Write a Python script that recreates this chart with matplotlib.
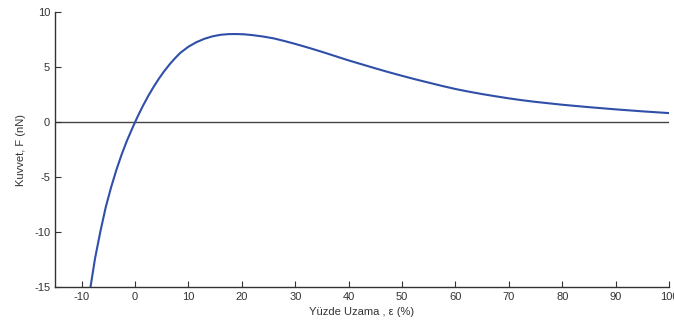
import numpy as np
import matplotlib.pyplot as plt

plt.rcParams['font.family'] = ['Liberation Sans', 'DejaVu Sans']
plt.rcParams['axes.unicode_minus'] = False

# values
strain = [-8.35, -7.5, -6.5, -5.5, -4.5, -3.5, -2.5, -1.5, -0.5, 0.5, 1.5,
          2.5, 3.5, 4.5, 5.5, 6.5, 7.5, 8.5, 10, 11.5, 13, 14.5, 16, 17.5,
          19, 20.5, 22, 24, 26, 28, 30, 32.5, 35, 37.5, 40, 42.5, 45, 47.5,
          50, 52.5, 55, 57.5, 60, 62.5, 65, 67.5, 70, 72.5, 75, 77.5, 80,
          82.5, 85, 87.5, 90, 92.5, 95, 97.5, 100]
force = [-15.0, -12.4, -9.95, -7.75, -5.95, -4.35, -2.93, -1.67, -0.55, 0.52, 1.5,
         2.4, 3.22, 3.97, 4.65, 5.26, 5.81, 6.3, 6.85, 7.26, 7.57, 7.79, 7.93, 7.99,
         8.0, 7.97, 7.9, 7.77, 7.6, 7.36, 7.1, 6.75, 6.38, 5.99, 5.6, 5.24, 4.88, 4.53,
         4.2, 3.88, 3.58, 3.28, 3.0, 2.76, 2.54, 2.34, 2.15, 1.98, 1.83, 1.7, 1.57,
         1.46, 1.35, 1.25, 1.15, 1.06, 0.97, 0.89, 0.81]
xticks = [-10, 0, 10, 20, 30, 40, 50, 60, 70, 80, 90, 100]
yticks = [-15, -10, -5, 0, 5, 10]

fig = plt.figure(figsize=(6.74, 3.25), dpi=100)
ax = fig.add_axes([0.0816, 0.117, 0.911, 0.846])

ax.axhline(0, color='#444444', lw=1.0, zorder=1)
ax.plot(strain, force, color='#2f4fa8', lw=1.5, zorder=2)

ax.set_xlim(-15, 100)
ax.set_ylim(-15, 10)
ax.set_xticks(xticks)
ax.set_yticks(yticks)

for s in ['top', 'right']:
    ax.spines[s].set_visible(False)
for s in ['left', 'bottom']:
    ax.spines[s].set_color('#333333')
    ax.spines[s].set_linewidth(1.0)

ax.tick_params(direction='in', length=4, width=0.8, colors='#333333',
               labelsize=8, labelcolor='#333333')
ax.set_xlabel('Yüzde Uzama , ε (%)', fontsize=8, color='#333333', labelpad=4)
ax.set_ylabel('Kuvvet, F (nN)', fontsize=8, color='#333333', labelpad=6)

fig.savefig('out.png', dpi=100)
